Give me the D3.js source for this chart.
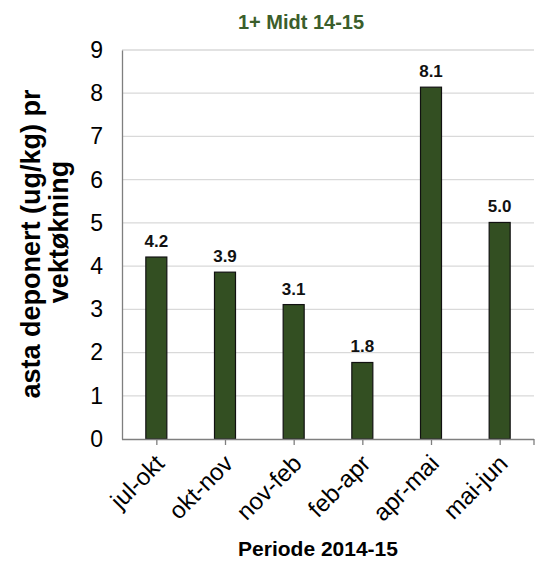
<!DOCTYPE html>
<html><head><meta charset="utf-8">
<script src="https://cdn.jsdelivr.net/npm/d3@7"></script>
<style>body{margin:0;background:#fff}svg{display:block;font-family:"Liberation Sans",Arial,sans-serif}</style>
</head><body>
<svg id="c" width="535" height="561"></svg>
<script>
const categories = ["jul-okt","okt-nov","nov-feb","feb-apr","apr-mai","mai-jun"];
const values = [4.21, 3.86, 3.11, 1.77, 8.14, 5.01];
const yTicks = [0,1,2,3,4,5,6,7,8,9];
const title = "1+ Midt 14-15";
const yTitleLines = ["asta deponert (ug/kg) pr", "vektøkning"];
const xTitle = "Periode 2014-15";

const svg = d3.select("#c");
const L = 122, R = 534, T = 50, B = 439;
const xc = d3.scalePoint().domain(categories).range([L, R]).padding(0.5);
const y = d3.scaleLinear().domain([0, 9]).range([B, T]);

// gridlines
svg.append("g").selectAll("line").data(yTicks.filter(d => d > 0)).join("line")
  .attr("x1", L).attr("x2", R).attr("y1", d => y(d)).attr("y2", d => y(d))
  .attr("stroke", "#d9d9d9").attr("stroke-width", 1.3);

// bars
svg.append("g").selectAll("rect").data(values).join("rect")
  .attr("x", (d, i) => xc(categories[i]) - 10.5)
  .attr("width", 21)
  .attr("y", d => y(d)).attr("height", d => B - y(d))
  .attr("fill", "#334f22").attr("stroke", "#111").attr("stroke-width", 1.2);

// value labels
svg.append("g").selectAll("text").data(values).join("text")
  .attr("x", (d, i) => xc(categories[i]))
  .attr("y", d => y(d) - 10)
  .attr("text-anchor", "middle").attr("font-size", 17).attr("font-weight", "bold").attr("fill", "#111")
  .text(d => d3.format(".1f")(d));

// y axis
const ya = svg.append("g").attr("transform", `translate(${L},0)`)
  .call(d3.axisLeft(y).tickValues(yTicks).tickSize(0).tickPadding(19).tickFormat(d3.format("d")));
ya.select(".domain").attr("stroke", "#7f7f7f").attr("stroke-width", 1.3);
ya.selectAll("text").attr("font-size", 23).attr("fill", "#000").attr("font-family", "Liberation Sans, Arial, sans-serif");

// x axis
const xa = svg.append("g").attr("transform", `translate(0,${B})`)
  .call(d3.axisBottom(xc).tickSize(6).tickSizeOuter(0));
xa.select(".domain").attr("stroke", "#7f7f7f").attr("stroke-width", 1.3).attr("d", `M${L},0.5H${R}`);
xa.selectAll(".tick line").attr("stroke", "#7f7f7f").attr("stroke-width", 1.3);
xa.append("line").attr("x1", R).attr("x2", R).attr("y1", 0).attr("y2", 6).attr("stroke", "#7f7f7f").attr("stroke-width", 1.3);
xa.selectAll(".tick text")
  .attr("font-size", 24).attr("fill", "#000").attr("font-family", "Liberation Sans, Arial, sans-serif")
  .attr("text-anchor", "end").attr("dy", null).attr("y", 0)
  .attr("transform", "translate(9,26) rotate(-45)");

// title
svg.append("text").attr("x", 301).attr("y", 29).attr("text-anchor", "middle")
  .attr("font-size", 20).attr("font-weight", "bold").attr("fill", "#3b5e2b").text(title);

// y title
const yt = [[40, 244], [68, 232]];
yTitleLines.forEach((t, i) => {
  svg.append("text").attr("transform", `translate(${yt[i][0]},${yt[i][1]}) rotate(-90)`)
    .attr("text-anchor", "middle").attr("font-size", 27).attr("font-weight", "bold").attr("fill", "#000").text(t);
});

// x title
svg.append("text").attr("x", 318).attr("y", 556).attr("text-anchor", "middle")
  .attr("font-size", 21).attr("font-weight", "bold").attr("fill", "#000").text(xTitle);
</script>
</body></html>
